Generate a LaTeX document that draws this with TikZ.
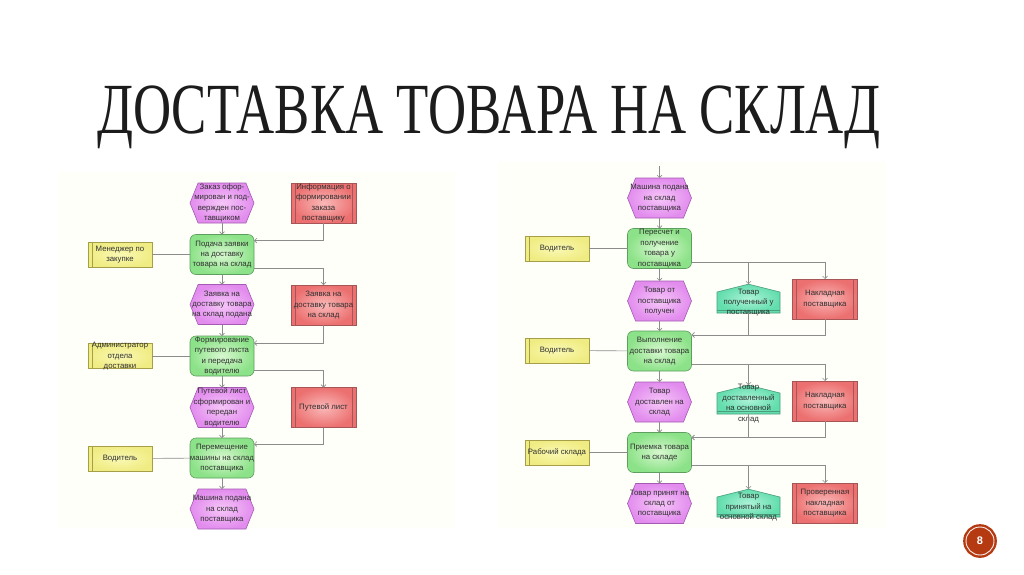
\documentclass[tikz,border=0pt]{standalone}
\usepackage{fontspec}
\setmainfont{Liberation Sans}
\newfontfamily\titlefont{Liberation Serif}
\usepackage{graphicx}
\usepackage{tikz}
\usetikzlibrary{arrows.meta,shapes.symbols}

\definecolor{evin}{HTML}{F6C6F8}
\definecolor{evout}{HTML}{E28CEE}
\definecolor{evline}{HTML}{A45AB2}
\definecolor{fnin}{HTML}{D8F8D0}
\definecolor{fnout}{HTML}{8CE288}
\definecolor{fnline}{HTML}{5E9E5E}
\definecolor{dcin}{HTML}{FAB8B8}
\definecolor{dcout}{HTML}{EC7070}
\definecolor{dcline}{HTML}{A65656}
\definecolor{orin}{HTML}{FAF9B4}
\definecolor{orout}{HTML}{F0EC84}
\definecolor{orline}{HTML}{A69E48}
\definecolor{mtin}{HTML}{ACF3D8}
\definecolor{mtout}{HTML}{62DDAC}
\definecolor{mtline}{HTML}{4C9C7E}
\definecolor{linegray}{HTML}{8C8C8C}
\definecolor{txt}{HTML}{303030}
\definecolor{ttl}{HTML}{1C1C1C}
\definecolor{pgred}{HTML}{B53A12}
\definecolor{panel}{HTML}{FFFFFA}

% text that does not change the size of its box
\newcommand{\celltext}[1]{\makebox[0pt]{\smash{\raisebox{-2pt}{\begin{tabular}{@{}c@{}}#1\end{tabular}}}}}

\begin{document}
\begin{tikzpicture}[
  x=1pt, y=-1pt,
  font=\fontsize{7.8}{10.4}\selectfont, text=txt,
  base/.style={inner sep=0pt, outer sep=0pt, line width=0.6pt},
  ev/.style={base, shape=signal, signal to=west and east, signal pointer angle=136,
             draw=evline, inner color=evin, outer color=evout,
             minimum width=64pt, minimum height=40pt},
  fn/.style={base, rectangle, rounded corners=6pt, draw=fnline,
             inner color=fnin, outer color=fnout,
             minimum width=64pt, minimum height=40pt},
  dc/.style={base, rectangle, draw=dcline, inner color=dcin, outer color=dcout,
             minimum width=65pt, minimum height=40pt,
             path picture={
               \draw[dcline, line width=0.5pt]
                 ([xshift=4pt]path picture bounding box.south west) -- ([xshift=4pt]path picture bounding box.north west)
                 ([xshift=-4pt]path picture bounding box.south east) -- ([xshift=-4pt]path picture bounding box.north east);}},
  org/.style={base, rectangle, draw=orline, inner color=orin, outer color=orout,
              minimum width=64pt, minimum height=25pt,
              path picture={
                \draw[orline, line width=0.5pt]
                  ([xshift=4pt]path picture bounding box.south west) -- ([xshift=4pt]path picture bounding box.north west);}},
  mt/.style={base, shape=signal, signal to=north, signal from=nowhere, signal pointer angle=152,
             draw=mtline, inner color=mtin, outer color=mtout,
             minimum width=63pt, minimum height=21pt,
             path picture={
               \draw[mtline, line width=0.5pt]
                 ([yshift=3pt]path picture bounding box.south west) -- ([yshift=3pt]path picture bounding box.south east);}},
  arr/.style={draw=linegray, line width=0.6pt, -{Straight Barb[length=2.5pt, width=5pt]}},
  ln/.style={draw=linegray, line width=0.6pt},
  pagenum/.style={circle, fill=pgred, draw=pgred, double=white!92!pgred,
                  line width=2.4pt, double distance=0.9pt, minimum size=28pt,
                  inner sep=0pt, text=white, font=\bfseries\fontsize{11}{11}\selectfont},
]
\useasboundingbox (0,0) rectangle (1024,574);

% screenshot backgrounds
\fill[panel] (58,172) rectangle (455,528);
\fill[panel] (498,162) rectangle (886,528);

% title
\node[inner sep=0pt, anchor=base west, text=ttl, font=\titlefont\fontsize{72}{72}\selectfont] (title) at (97,133)
  {\resizebox{783pt}{\height}{ДОСТАВКА ТОВАРА НА СКЛАД}};

% left chain
\node[ev]  (eL1) at (222,203)   {\celltext{Заказ офор-\\мирован и под-\\вержден пос-\\тавщиком}};
\node[dc]  (dL1) at (323.5,203) {\celltext{Информация о\\формировании\\заказа\\поставщику}};
\node[fn]  (fL1) at (222,254.5) {\celltext{Подача заявки\\на доставку\\товара на склад}};
\node[org] (oL1) at (120,254.5) {\celltext{Менеджер по\\закупке}};
\node[ev]  (eL2) at (222,304.5) {\celltext{Заявка на\\доставку товара\\на склад подана}};
\node[dc]  (dL2) at (323.5,305) {\celltext{Заявка на\\доставку товара\\на склад}};
\node[fn]  (fL2) at (222,356)   {\celltext{Формирование\\путевого листа\\и передача\\водителю}};
\node[org] (oL2) at (120,356)   {\celltext{Администратор\\отдела\\доставки}};
\node[ev]  (eL3) at (222,407.5) {\celltext{Путевой лист\\сформирован и\\передан\\водителю}};
\node[dc]  (dL3) at (323.5,407.5) {\celltext{Путевой лист}};
\node[fn]  (fL3) at (222,458)   {\celltext{Перемещение\\машины на склад\\поставщика}};
\node[org] (oL3) at (120,458.5) {\celltext{Водитель}};
\node[ev]  (eL4) at (222,509)   {\celltext{Машина подана\\на склад\\поставщика}};

\draw[arr] (eL1) -- (fL1);
\draw[arr] (dL1.south) |- ([yshift=-6pt]fL1.north east);
\draw[ln]  (oL1) -- (fL1);
\draw[arr] (fL1) -- (eL2);
\draw[arr] ([yshift=6pt]fL1.south east) -| (dL2.north);
\draw[arr] (eL2) -- (fL2);
\draw[arr] (dL2.south) |- ([yshift=-7pt]fL2.north east);
\draw[ln]  (oL2) -- (fL2);
\draw[arr] (fL2) -- (eL3);
\draw[arr] ([yshift=6pt]fL2.south east) -| (dL3.north);
\draw[arr] (eL3) -- (fL3);
\draw[arr] (dL3.south) |- ([yshift=-6pt]fL3.north east);
\draw[ln]  (oL3) -- (fL3);
\draw[arr] (fL3) -- (eL4);

% right chain
\coordinate (inR) at (659.5,166);
\node[ev]  (eR1) at (659.5,198)   {\celltext{Машина подана\\на склад\\поставщика}};
\node[fn]  (fR1) at (659.5,248.5) {\celltext{Пересчет и\\получение\\товара у\\поставщика}};
\node[org] (oR1) at (557,248.5)   {\celltext{Водитель}};
\node[ev]  (eR2) at (659.5,301)   {\celltext{Товар от\\поставщика\\получен}};
\node[mt]  (mR1) at (748.5,302.5) {\celltext{Товар\\полученный у\\поставщика}};
\node[dc]  (dR1) at (825,299)     {\celltext{Накладная\\поставщика}};
\node[fn]  (fR2) at (659.5,351)   {\celltext{Выполнение\\доставки товара\\на склад}};
\node[org] (oR2) at (557,350.5)   {\celltext{Водитель}};
\node[ev]  (eR3) at (659.5,402)   {\celltext{Товар\\доставлен на\\склад}};
\node[mt]  (mR2) at (748.5,403.5) {\celltext{Товар\\доставленный\\на основной\\склад}};
\node[dc]  (dR2) at (825,401)     {\celltext{Накладная\\поставщика}};
\node[fn]  (fR3) at (659.5,452.5) {\celltext{Приемка товара\\на складе}};
\node[org] (oR3) at (557,452.5)   {\celltext{Рабочий склада}};
\node[ev]  (eR4) at (659.5,503.5) {\celltext{Товар принят на\\склад от\\поставщика}};
\node[mt, minimum height=20pt] (mR3) at (748.5,507) {\celltext{Товар\\принятый на\\основной склад}};
\node[dc]  (dR3) at (825,503)     {\celltext{Проверенная\\накладная\\поставщика}};

\draw[arr] (inR) -- (eR1);
\draw[arr] (eR1) -- (fR1);
\draw[ln]  (oR1) -- (fR1);
\draw[arr] (fR1) -- (eR2);
\draw[arr] ([yshift=6pt]fR1.south east) -| (mR1.north);
\draw[arr] ([yshift=6pt]fR1.south east) -| (dR1.north);
\draw[arr] (eR2) -- (fR2);
\draw[arr] (mR1.south) |- ([yshift=-4pt]fR2.north east);
\draw[arr] (dR1.south) |- ([yshift=-4pt]fR2.north east);
\draw[ln]  (oR2) -- (fR2);
\draw[arr] (fR2) -- (eR3);
\draw[arr] ([yshift=7pt]fR2.south east) -| (mR2.north);
\draw[arr] ([yshift=7pt]fR2.south east) -| (dR2.north);
\draw[arr] (eR3) -- (fR3);
\draw[arr] (mR2.south) |- ([yshift=-5pt]fR3.north east);
\draw[arr] (dR2.south) |- ([yshift=-5pt]fR3.north east);
\draw[ln]  (oR3) -- (fR3);
\draw[arr] (fR3) -- (eR4);
\draw[arr] ([yshift=7pt]fR3.south east) -| (mR3.north);
\draw[arr] ([yshift=7pt]fR3.south east) -| (dR3.north);

% slide number
\node[pagenum] (pg) at (980,541) {8};
\end{tikzpicture}
\end{document}
